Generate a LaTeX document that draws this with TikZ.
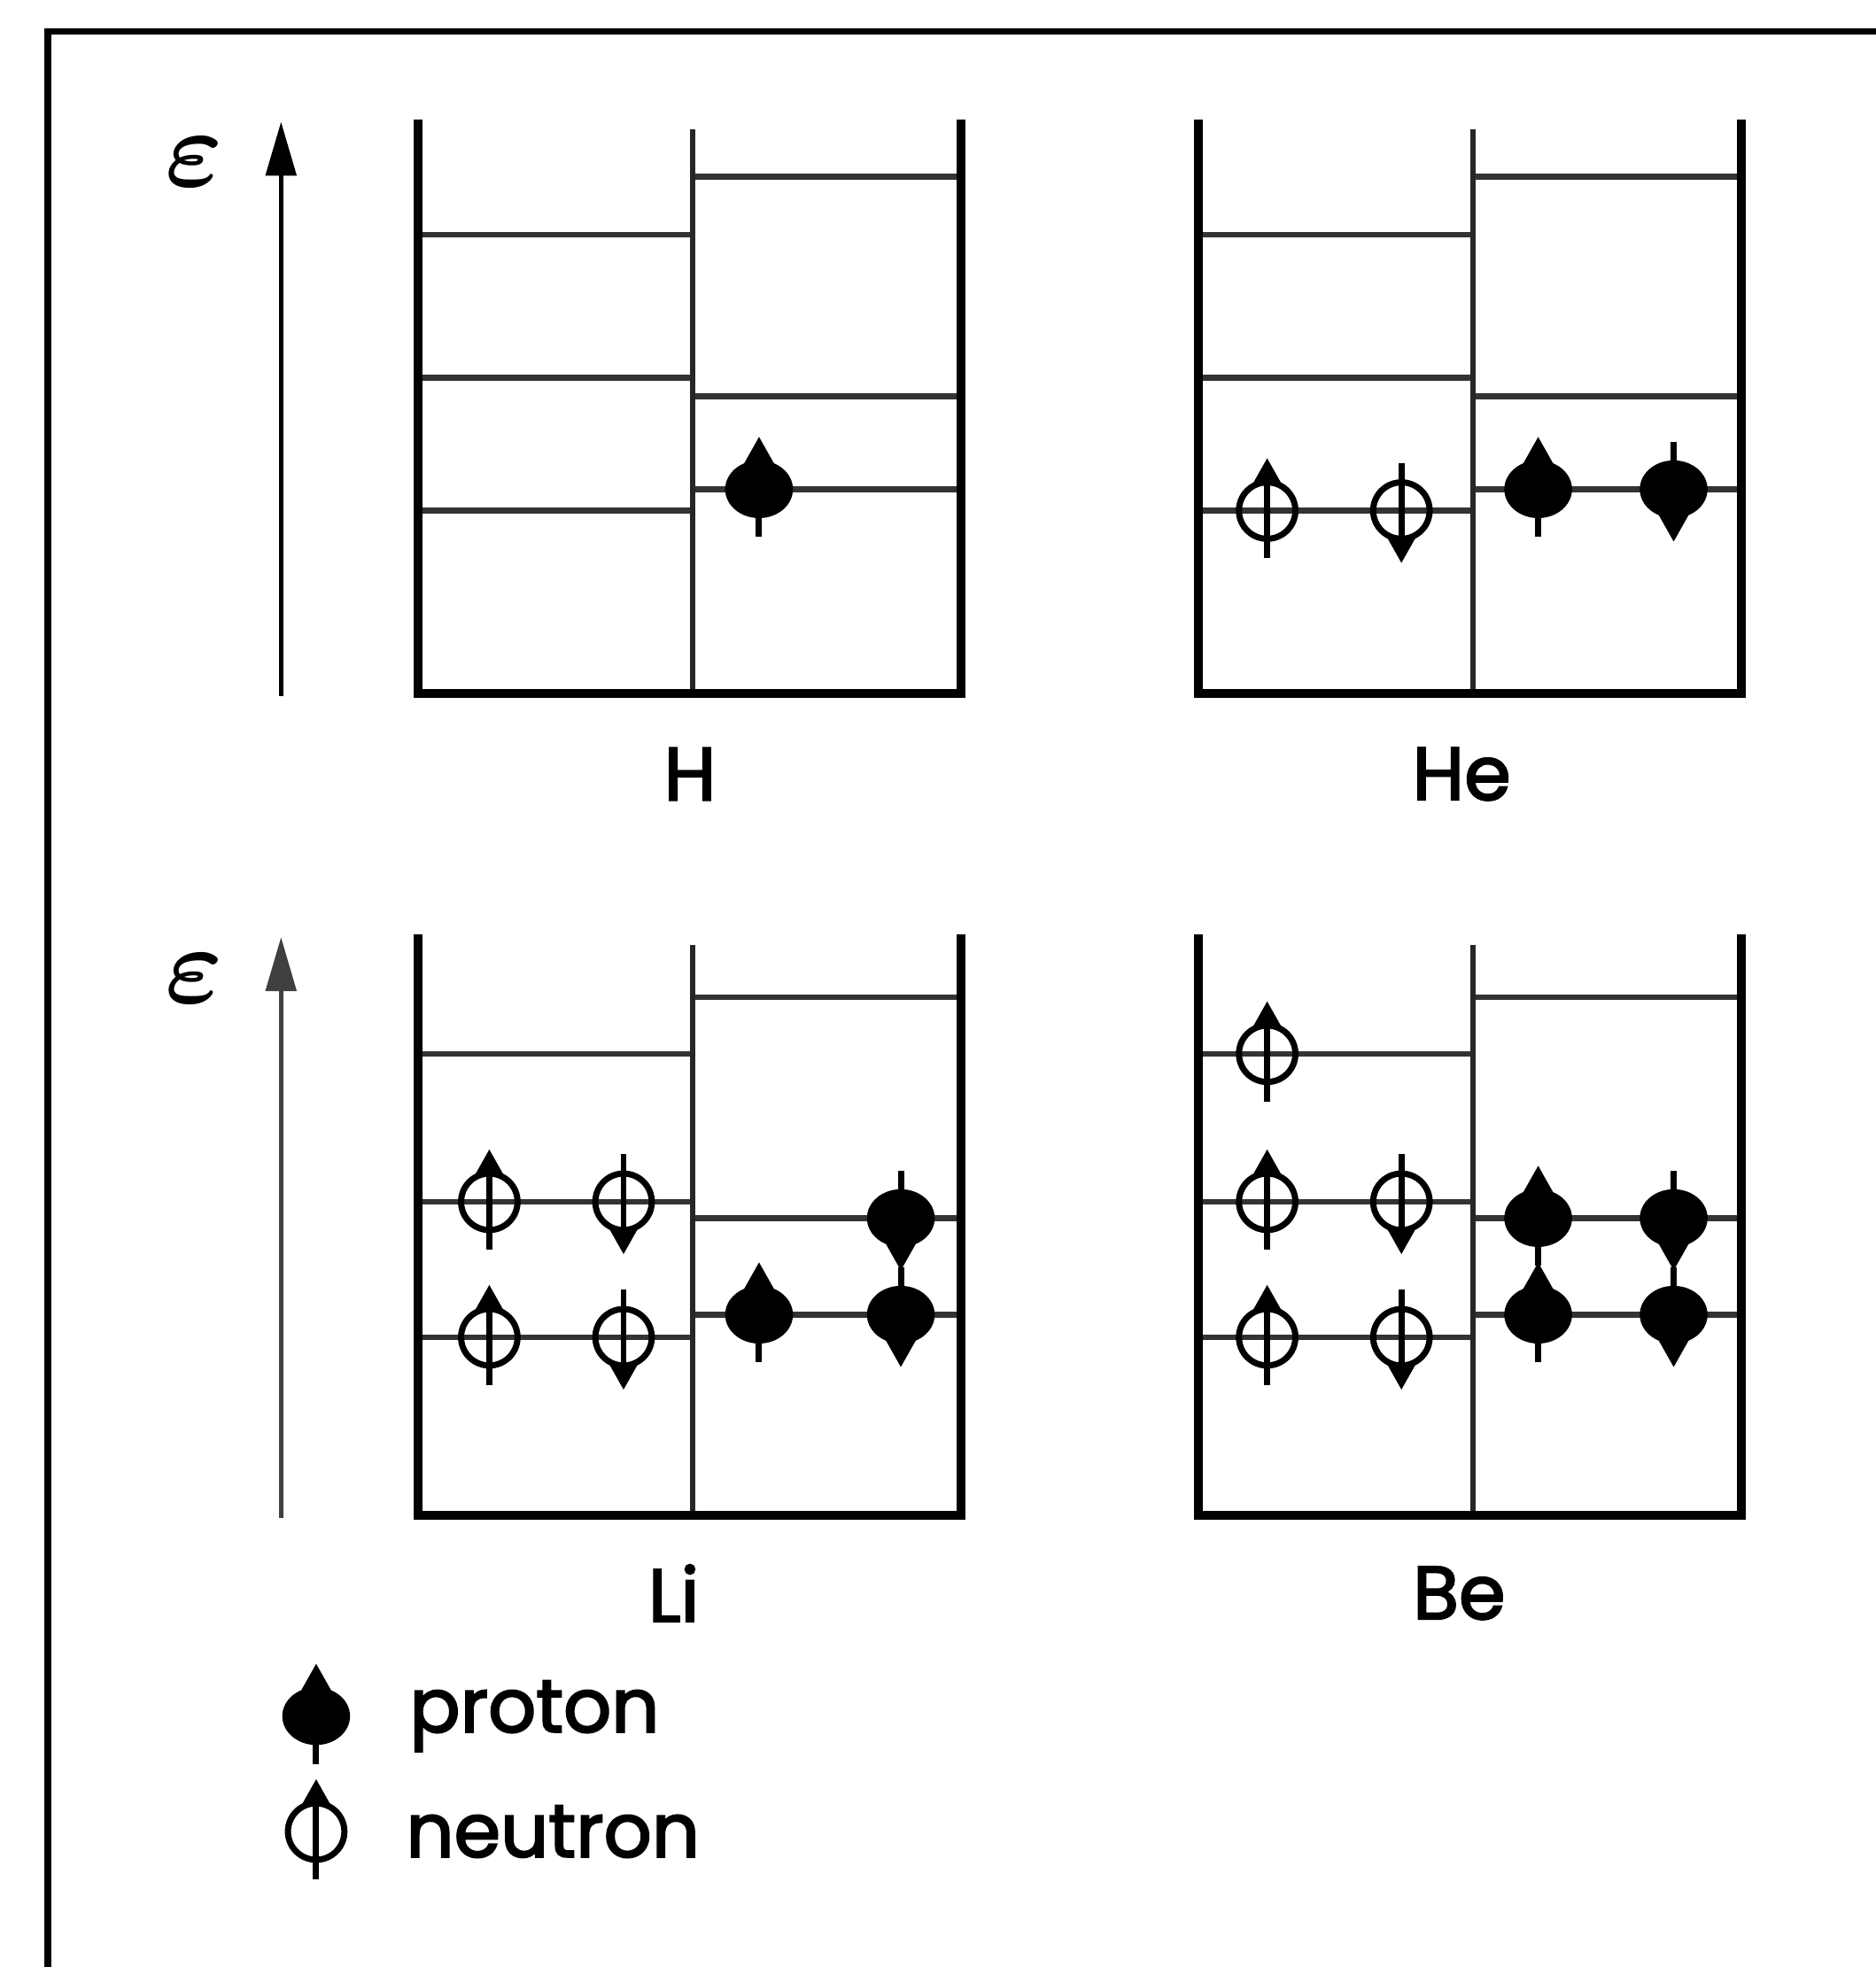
\documentclass[tikz,border=0pt]{standalone}
\usepackage{fontspec}
\usepackage{tikz}
\usetikzlibrary{arrows.meta, positioning, shapes.geometric}
\newfontfamily\labelfont[FakeBold=2.5]{Poppins}
\tikzset{
	frame/.style={line width=1.5pt},
	wall/.style={line width=2pt, line join=miter},
	divider/.style={line width=1.2pt, black!85},
	level/.style={line width=1.3pt, black!80},
	axis/.style={line width=1.1pt, -{Triangle[length=0.43cm, width=0.24cm]}},
	proton/.style={ellipse, fill=black, minimum width=0.54cm, minimum height=0.46cm, inner sep=0pt},
	neutron/.style={circle, draw=black, line width=1.4pt, minimum size=0.45cm, inner sep=0pt},
	spin/.style={line width=1.4pt, -{Triangle[length=0.22cm, width=0.23cm]}},
	elem/.style={font=\labelfont\fontsize{17}{20}\selectfont},
	legtext/.style={font=\labelfont\fontsize{17}{20}\selectfont, anchor=west, inner sep=0pt},
	energy/.style={font=\fontsize{23}{26}\selectfont\boldmath},
}
\begin{document}
\begin{tikzpicture}[x=1cm, y=-1cm]
\useasboundingbox (0,0) rectangle (14.95,15.68);
\draw[frame] (0.38,16) -- (0.38,0.25) -- (15.3,0.25);

% energy axes
\coordinate (eBotA) at (2.24,5.55);
\coordinate (eTopA) at (2.24,0.97);
\coordinate (eBotB) at (2.24,12.10);
\coordinate (eTopB) at (2.24,7.47);
\draw[axis] (eBotA) -- (eTopA);
\draw[axis, black!75] (eBotB) -- (eTopB);
\node[energy] (epsA) at (1.55,1.29) {$\varepsilon$};
\node[energy] (epsB) at (1.55,7.80) {$\varepsilon$};

% wells: left half neutrons, right half protons
\foreach \px/\py/\d/\la/\lb/\lc/\ra/\rb/\rc in {
	3.33/0.95/4.58/0.92/2.06/3.12/0.46/2.21/2.95,
	9.55/0.95/4.58/0.92/2.06/3.12/0.46/2.21/2.95,
	3.33/7.45/4.63/0.95/2.13/3.21/0.50/2.26/3.03,
	9.55/7.45/4.63/0.95/2.13/3.21/0.50/2.26/3.03}{
	\begin{scope}[shift={(\px,\py)}]
		\foreach \y in {\la,\lb,\lc} \draw[level] (0,\y) -- (2.19,\y);
		\foreach \y in {\ra,\rb,\rc} \draw[level] (2.19,\y) -- (4.33,\y);
		\draw[divider] (2.19,0.08) -- (2.19,\d);
		\draw[wall] (0,0) -- (0,\d) -- (4.33,\d) -- (4.33,0);
	\end{scope}
}

% particles
\foreach \n/\x/\y/\s in {hP1/6.05/3.90/1,
	heP1/12.26/3.90/1, heP2/13.34/3.90/-1,
	liP1/6.05/10.48/1, liP2/7.18/10.48/-1, liP3/7.18/9.71/-1,
	beP1/12.26/9.71/1, beP2/13.34/9.71/-1, beP3/12.26/10.48/1, beP4/13.34/10.48/-1,
	lp/2.52/13.68/1}{
	\node[proton] (\n) at (\x,\y) {};
	\draw[spin] ([yshift=-\s*0.38cm]\n.center) -- ([yshift=\s*0.42cm]\n.center);
}
\foreach \n/\x/\y/\s in {heN1/10.10/4.07/1, heN2/11.17/4.07/-1,
	liN1/3.90/9.58/1, liN2/4.97/9.58/-1, liN3/3.90/10.66/1, liN4/4.97/10.66/-1,
	beN1/10.10/8.40/1, beN2/10.10/9.58/1, beN3/11.17/9.58/-1, beN4/10.10/10.66/1, beN5/11.17/10.66/-1,
	ln/2.52/14.60/1}{
	\node[neutron] (\n) at (\x,\y) {};
	\draw[spin] ([yshift=-\s*0.38cm]\n.center) -- ([yshift=\s*0.42cm]\n.center);
}

% element names
\node[elem] (lH) at (5.50,6.17) {H};
\node[elem] (lHe) at (11.65,6.17) {He};
\node[elem] (lLi) at (5.37,12.70) {Li};
\node[elem] (lBe) at (11.63,12.70) {Be};

% legend
\node[legtext, right=0.46cm of lp] (tp) {proton};
\node[legtext, right=0.46cm of ln] (tn) {neutron};
\end{tikzpicture}
\end{document}
